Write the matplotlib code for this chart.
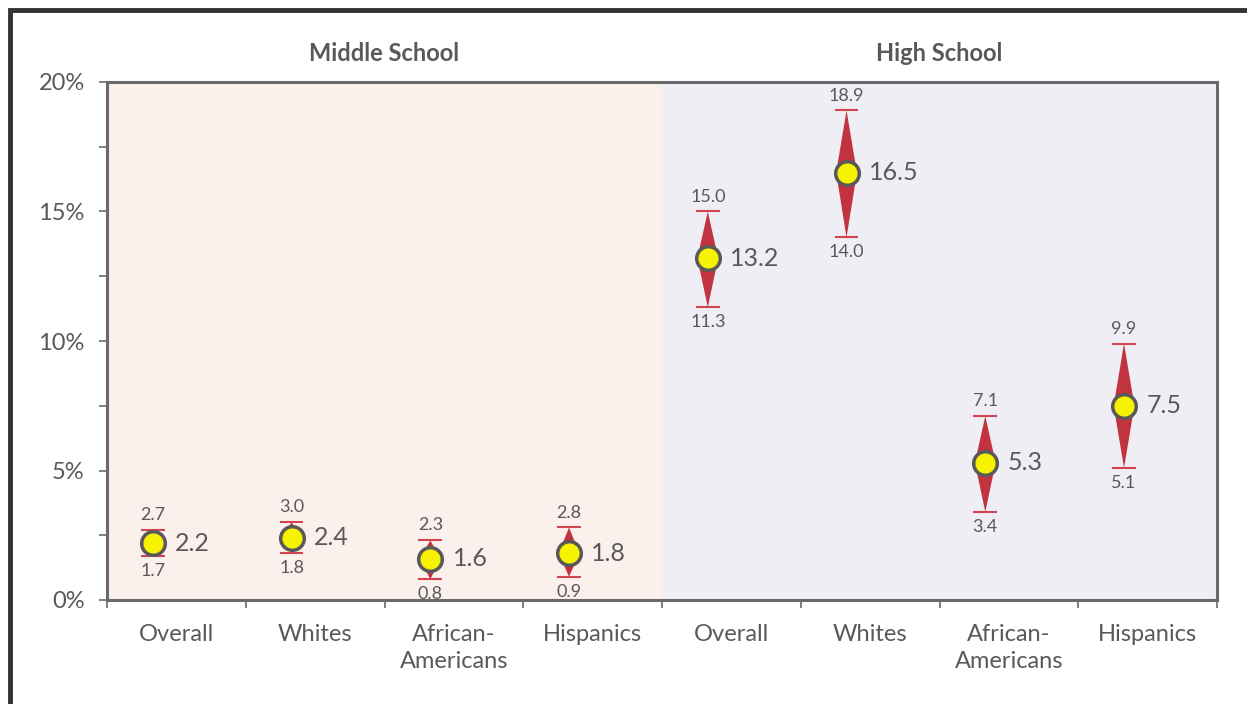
import matplotlib.pyplot as plt
from matplotlib.patches import Rectangle
from matplotlib.ticker import MultipleLocator, FixedLocator, NullFormatter

# data (percent)
groups = ["Overall", "Whites", "African-\nAmericans", "Hispanics",
          "Overall", "Whites", "African-\nAmericans", "Hispanics"]
estimates = [2.2, 2.4, 1.6, 1.8, 13.2, 16.5, 5.3, 7.5]
upper = [2.7, 3.0, 2.3, 2.8, 15.0, 18.9, 7.1, 9.9]
lower = [1.7, 1.8, 0.8, 0.9, 11.3, 14.0, 3.4, 5.1]
sections = ["Middle School", "High School"]

txt = "#595959"
red = "#C1343F"
cap_red = "#D2434F"
plt.rcParams['font.family'] = ['Lato', 'DejaVu Sans']

fig = plt.figure(figsize=(12.47, 7.04), dpi=100)
ax = fig.add_axes([107 / 1247, 1 - 600 / 704, 1110 / 1247, 518 / 704])

n = len(groups)
ax.set_xlim(0, n)
ax.set_ylim(0, 20)

# section shading
ax.axvspan(0, n / 2, color="#FBF0EC", zorder=0)
ax.axvspan(n / 2, n, color="#EFEEF4", zorder=0)

hw = 0.075   # half width of diamond
cw = 0.085   # half width of caps
for i, (m, hi, lo) in enumerate(zip(estimates, upper, lower)):
    x = i + 0.33
    ax.fill([x, x + hw, x, x - hw], [lo, m, hi, m], color=red, lw=0, zorder=2)
    ax.hlines([hi, lo], x - cw, x + cw, color=cap_red, lw=1.5, zorder=2)
    ax.plot(x, m, "o", ms=17, mfc="#F7F300", mec="#595959", mew=2.5, zorder=4)
    ax.annotate(f"{m:.1f}", (x, m), xytext=(16, 0), textcoords="offset points",
                ha="left", va="center", fontsize=18, color=txt)
    ax.annotate(f"{hi:.1f}", (x, hi), xytext=(0, 5), textcoords="offset points",
                ha="center", va="bottom", fontsize=13, color=txt)
    ax.annotate(f"{lo:.1f}", (x, lo), xytext=(0, -5), textcoords="offset points",
                ha="center", va="top", fontsize=13, color=txt)

# section titles
for k, s in enumerate(sections):
    ax.text(n / 4 + k * n / 2, 1.055, s, transform=ax.get_xaxis_transform(),
            ha="center", va="center", fontsize=17, fontweight="bold", color=txt)

# axes styling
for sp in ax.spines.values():
    sp.set_color("#6A6A6A")
    sp.set_linewidth(2.2)

ax.yaxis.set_major_locator(MultipleLocator(5))
ax.yaxis.set_minor_locator(MultipleLocator(2.5))
ax.set_yticklabels([f"{int(v)}%" for v in ax.get_yticks()])
ax.tick_params(axis="y", which="both", direction="out", length=6, width=1.2,
               color="#6A6A6A", labelsize=17, labelcolor=txt, pad=10)

ax.xaxis.set_major_locator(FixedLocator(range(n + 1)))
ax.xaxis.set_major_formatter(NullFormatter())
ax.xaxis.set_minor_locator(FixedLocator([i + 0.5 for i in range(n)]))
ax.set_xticklabels(groups, minor=True, linespacing=1.35)
ax.tick_params(axis="x", which="major", direction="out", length=6, width=1.2,
               color="#6A6A6A")
ax.tick_params(axis="x", which="minor", length=0, labelsize=17,
               labelcolor=txt, pad=17)

# dark outer frame (only top and left visible)
fig.patches.append(Rectangle((9.5 / 1247, -0.5), 2, 1.5 - 10 / 704,
                             transform=fig.transFigure, fill=False,
                             ec="#333333", lw=3.5, zorder=10))

fig.savefig("out.png", dpi=100)
